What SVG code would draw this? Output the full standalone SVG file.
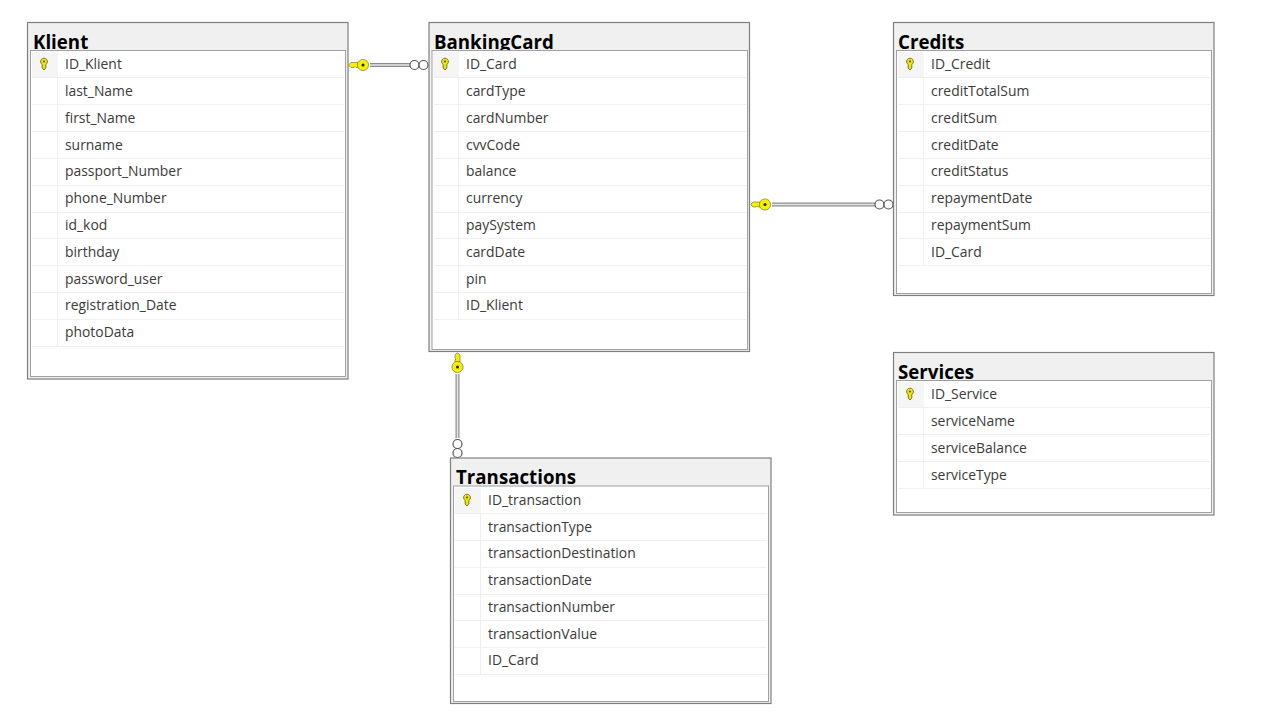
<svg xmlns="http://www.w3.org/2000/svg" xmlns:xlink="http://www.w3.org/1999/xlink" width="1280" height="720" viewBox="0 0 1280 720">
<style>
.o{fill:#f0f0f0;stroke:#7f7f7f;stroke-width:1.2}
.i{fill:#fff;stroke:#a0a0a0;stroke-width:1}
.t{font:bold 18.7px "Open Sans","Noto Sans",sans-serif;fill:#000}
.r{font:13.9px "Open Sans","Noto Sans",sans-serif;fill:#3a3a3a}
.l{stroke:#efefef;stroke-width:1;fill:none}
.k{fill:#f5f5f5}
.c1{stroke:#8c8c8c;stroke-width:4;fill:none}
.c2{stroke:#e8e8e8;stroke-width:1.6;fill:none}
.ring{fill:#fff;stroke:#555;stroke-width:1.2}
.key{fill:#f2e600;stroke:#5a5a10;stroke-width:.8}
.bk{fill:#f5ef00;stroke:#6a6a30;stroke-width:.6}
</style>
<defs>
<g id="rk"><rect x="-12" y="-12" width="26" height="25" class="k"/><path d="M-1.800 0.500V4L0 6L1.800 4V0.500A3.400 3.400 0 1 0 -1.800 0.500Z" class="key"/><circle cx="0" cy="-2.500" r="1" fill="#444"/></g>
<g id="bigkey"><path d="M0 -0.500L2 -2.500H9V2.500H7L6 1.500L5 2.500H2L0 0.500Z" class="bk"/><circle cx="14" cy="0" r="5.600" class="bk"/><circle cx="14" cy="0" r="1.500" fill="#222"/></g>
</defs>
<rect width="1280" height="720" fill="#fff"/>
<g id="connectors">
<g id="c-klient-card"><path d="M370 65H410" class="c1"/><path d="M370 65H410" class="c2"/><circle cx="414.500" cy="65" r="4.500" class="ring"/><circle cx="423.500" cy="65" r="4.500" class="ring"/><use xlink:href="#bigkey" href="#bigkey" x="349" y="65"/></g>
<g id="c-card-credits"><path d="M772 204.500H875" class="c1"/><path d="M772 204.500H875" class="c2"/><circle cx="879.500" cy="204.500" r="4.500" class="ring"/><circle cx="888.500" cy="204.500" r="4.500" class="ring"/><use xlink:href="#bigkey" href="#bigkey" x="751" y="204.500"/></g>
<g id="c-card-trans"><path d="M457.500 374V438" class="c1"/><path d="M457.500 374V438" class="c2"/><circle cx="457.500" cy="444" r="4.500" class="ring"/><circle cx="457.500" cy="453" r="4.500" class="ring"/><use xlink:href="#bigkey" href="#bigkey" transform="translate(457.500 353) rotate(90)"/></g>
</g>
<g id="klient">
<rect x="27.500" y="22.500" width="320.500" height="356.500" class="o"/>
<text x="33" y="48.500" class="t">Klient</text>
<rect x="30.500" y="50.500" width="315" height="326" class="i"/>
<path class="l" d="M32 77.500H344M32 104.500H344M32 131.500H344M32 158.500H344M32 185.500H344M32 212.500H344M32 238.500H344M32 265.500H344M32 292.500H344M32 319.500H344M32 346.500H344M57.500 51V346"/>
<use xlink:href="#rk" href="#rk" x="44" y="64"/>
<text class="r" x="65" y="69">ID_Klient</text><text class="r" x="65" y="96">last_Name</text><text class="r" x="65" y="123">first_Name</text><text class="r" x="65" y="150">surname</text><text class="r" x="65" y="176">passport_Number</text><text class="r" x="65" y="203">phone_Number</text><text class="r" x="65" y="230">id_kod</text><text class="r" x="65" y="257">birthday</text><text class="r" x="65" y="284">password_user</text><text class="r" x="65" y="310">registration_Date</text><text class="r" x="65" y="337">photoData</text>
</g>
<g id="bankingcard">
<rect x="429" y="22.500" width="320.500" height="329" class="o"/>
<text x="434" y="48.500" class="t">BankingCard</text>
<rect x="432" y="50.500" width="315.500" height="299" class="i"/>
<path class="l" d="M434 77.500H746M434 104.500H746M434 131.500H746M434 158.500H746M434 185.500H746M434 212.500H746M434 238.500H746M434 265.500H746M434 292.500H746M434 319.500H746M458.500 51V319"/>
<use xlink:href="#rk" href="#rk" x="445" y="64"/>
<text class="r" x="466" y="69">ID_Card</text><text class="r" x="466" y="96">cardType</text><text class="r" x="466" y="123">cardNumber</text><text class="r" x="466" y="150">cvvCode</text><text class="r" x="466" y="176">balance</text><text class="r" x="466" y="203">currency</text><text class="r" x="466" y="230">paySystem</text><text class="r" x="466" y="257">cardDate</text><text class="r" x="466" y="284">pin</text><text class="r" x="466" y="310">ID_Klient</text>
</g>
<g id="credits">
<rect x="893.500" y="22.500" width="320.500" height="273" class="o"/>
<text x="898" y="48.500" class="t">Credits</text>
<rect x="896.500" y="50.500" width="315" height="243" class="i"/>
<path class="l" d="M898 77.500H1210M898 104.500H1210M898 131.500H1210M898 158.500H1210M898 185.500H1210M898 212.500H1210M898 238.500H1210M898 265.500H1210M923.500 51V265"/>
<use xlink:href="#rk" href="#rk" x="910" y="64"/>
<text class="r" x="931" y="69">ID_Credit</text><text class="r" x="931" y="96">creditTotalSum</text><text class="r" x="931" y="123">creditSum</text><text class="r" x="931" y="150">creditDate</text><text class="r" x="931" y="176">creditStatus</text><text class="r" x="931" y="203">repaymentDate</text><text class="r" x="931" y="230">repaymentSum</text><text class="r" x="931" y="257">ID_Card</text>
</g>
<g id="services">
<rect x="893.500" y="352.500" width="320.500" height="162.500" class="o"/>
<text x="898" y="378.500" class="t">Services</text>
<rect x="896.500" y="380.500" width="315" height="132" class="i"/>
<path class="l" d="M898 407.500H1210M898 434.500H1210M898 461.500H1210M898 488.500H1210M923.500 381V488"/>
<use xlink:href="#rk" href="#rk" x="910" y="394"/>
<text class="r" x="931" y="399">ID_Service</text><text class="r" x="931" y="426">serviceName</text><text class="r" x="931" y="453">serviceBalance</text><text class="r" x="931" y="480">serviceType</text>
</g>
<g id="transactions">
<rect x="450.500" y="458" width="320.500" height="245.500" class="o"/>
<text x="456" y="484" class="t">Transactions</text>
<rect x="453.500" y="486" width="315" height="215.500" class="i"/>
<path class="l" d="M455 513.500H767M455 540.500H767M455 567.500H767M455 594.500H767M455 620.500H767M455 647.500H767M455 674.500H767M480.500 487V674"/>
<use xlink:href="#rk" href="#rk" x="467" y="500"/>
<text class="r" x="488" y="505">ID_transaction</text><text class="r" x="488" y="532">transactionType</text><text class="r" x="488" y="558">transactionDestination</text><text class="r" x="488" y="585">transactionDate</text><text class="r" x="488" y="612">transactionNumber</text><text class="r" x="488" y="639">transactionValue</text><text class="r" x="488" y="665">ID_Card</text>
</g>
</svg>
